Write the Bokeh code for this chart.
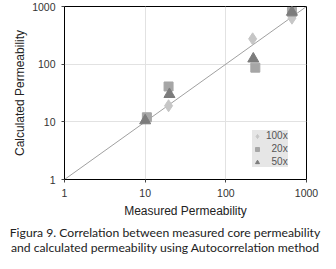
from bokeh.plotting import figure
from bokeh.models import FixedTicker, Legend, LegendItem, Div
from bokeh.layouts import column
from bokeh.embed import file_html
from bokeh.resources import INLINE

# Data
x_100 = [19.5, 215, 660]
y_100 = [19, 275, 628]
x_20 = [10.5, 232, 19.5, 660]
y_20 = [12, 87, 41, 807]
x_50 = [10, 20, 219, 660]
y_50 = [10.5, 30, 124, 800]
line_x = [1, 1000]
line_y = [1, 1000]
ticks = [1, 10, 100, 1000]
tick_labels = {1: "1", 10: "10", 100: "100", 1000: "1000"}
series_names = ["100x", "\u200720x", "\u200750x"]
caption = ["Figura 9. Correlation between measured core permeability",
           "and calculated permeability using Autocorrelation method"]

W = 320
p = figure(width=W, height=220, x_axis_type="log", y_axis_type="log",
           x_range=(1, 1000), y_range=(1, 1000),
           output_backend="svg", toolbar_location=None,
           min_border_left=64, min_border_right=14, min_border_top=6,
           min_border_bottom=40)
p.background_fill_color = "white"
p.border_fill_color = "white"
p.outline_line_color = "black"
p.outline_line_width = 1

for ax in (p.xaxis, p.yaxis):
    ax.ticker = FixedTicker(ticks=ticks)
    ax.major_label_overrides = tick_labels
    ax.minor_tick_line_color = None
    ax.major_tick_in = 0
    ax.major_tick_out = 3
    ax.major_tick_line_color = "#444444"
    ax.axis_line_color = "black"
    ax.major_label_text_font = "Liberation Sans"
    ax.major_label_text_font_size = "10.5px"
    ax.major_label_text_color = "#333333"
    ax.axis_label_text_font = "Liberation Sans"
    ax.axis_label_text_font_size = "12px"
    ax.axis_label_text_font_style = "normal"
    ax.axis_label_text_color = "#222222"

p.xaxis.axis_label = "Measured Permeability"
p.yaxis.axis_label = "Calculated Permeability"
p.xaxis.major_label_standoff = 6
p.yaxis.major_label_standoff = 6
p.xaxis.axis_label_standoff = 4
p.yaxis.axis_label_standoff = 2

p.grid.grid_line_color = "#e2e2e2"
p.grid.grid_line_width = 1

p.line(line_x, line_y, line_color="#a0a0a0", line_width=1)

r100 = p.scatter(x_100, y_100, marker="diamond", size=12, fill_color="#c6c6c6", line_color="#c6c6c6")
r20 = p.scatter(x_20, y_20, marker="square", size=9, fill_color="#a6a6a6", line_color="#a6a6a6")
r50 = p.scatter(x_50, y_50, marker="triangle", size=11, fill_color="#7c7c7c", line_color="#7c7c7c")

legend = Legend(items=[LegendItem(label=series_names[0], renderers=[r100]),
                       LegendItem(label=series_names[1], renderers=[r20]),
                       LegendItem(label=series_names[2], renderers=[r50])],
                location=(188, 12))
legend.background_fill_color = "#e6e6e6"
legend.background_fill_alpha = 1
legend.border_line_color = None
legend.label_text_font = "Liberation Sans"
legend.label_text_font_size = "10px"
legend.label_text_color = "#555555"
legend.glyph_width = 10
legend.glyph_height = 10
legend.label_height = 10
legend.label_standoff = 4
legend.spacing = 2
legend.padding = 5
legend.margin = 0
p.add_layout(legend, "center")

cap = Div(text="<br>".join(caption), width=W, height=33,
          styles={"font-family": "Lato", "font-size": "12.2px", "line-height": "15px",
                  "text-align": "center", "color": "#222222", "white-space": "nowrap"})

layout = column(p, cap, spacing=0)
open("out.html", "w").write(file_html(layout, INLINE))
